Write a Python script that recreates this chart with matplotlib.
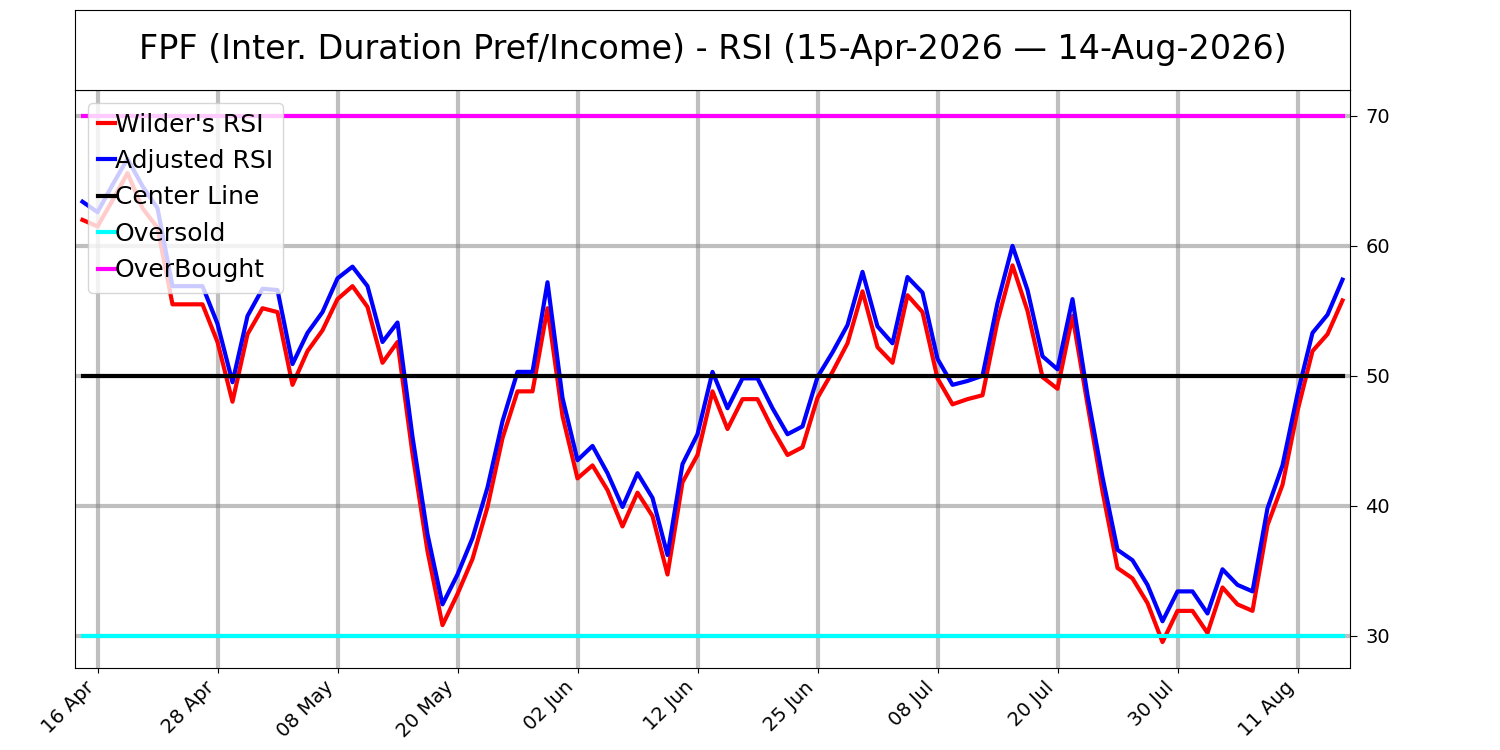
import matplotlib; matplotlib.use("Agg")
import matplotlib.pyplot as plt
import numpy as np
import pandas as pd

# ── Data ──────────────────────────────────────────────────────────────────
TITLE = "FPF (Inter. Duration Pref/Income) - RSI (15-Apr-2026 \u2014 14-Aug-2026)"
START, END = "2026-04-15", "2026-08-14"
HOLIDAYS = ["2026-05-25", "2026-06-19", "2026-07-03"]

wilder_rsi = [62.0, 61.5, 63.5, 65.6, 62.9, 61.4, 55.5, 55.5, 55.5, 52.6,
              48.0, 53.2, 55.2, 54.9, 49.3, 51.9, 53.5, 55.9, 56.9, 55.3,
              51.0, 52.6, 44.0, 36.5, 30.8, 33.2, 35.9, 39.9, 45.2, 48.8,
              48.8, 55.2, 46.9, 42.1, 43.1, 41.2, 38.4, 41.0, 39.2, 34.7,
              41.8, 43.9, 48.8, 45.9, 48.2, 48.2, 45.9, 43.9, 44.5, 48.3,
              50.3, 52.5, 56.5, 52.2, 51.0, 56.2, 54.9, 49.8, 47.8, 48.2,
              48.5, 54.2, 58.5, 55.0, 49.9, 49.0, 54.6, 47.8, 41.1, 35.2,
              34.4, 32.5, 29.5, 31.9, 31.9, 30.2, 33.7, 32.4, 31.9, 38.5,
              41.6, 47.3, 51.9, 53.2, 55.8]
adjusted_rsi = [63.4, 62.6, 64.7, 66.7, 64.6, 62.9, 56.9, 56.9, 56.9, 54.0,
                49.5, 54.6, 56.7, 56.6, 50.9, 53.3, 54.9, 57.5, 58.4, 56.9,
                52.6, 54.1, 45.3, 37.8, 32.4, 34.7, 37.5, 41.4, 46.5, 50.3,
                50.3, 57.2, 48.3, 43.5, 44.6, 42.5, 39.9, 42.5, 40.6, 36.2,
                43.2, 45.5, 50.3, 47.5, 49.8, 49.8, 47.5, 45.5, 46.1, 49.9,
                51.8, 53.9, 58.0, 53.8, 52.5, 57.6, 56.4, 51.3, 49.3, 49.6,
                50.0, 55.6, 60.0, 56.6, 51.5, 50.5, 55.9, 48.5, 42.2, 36.6,
                35.8, 33.9, 31.1, 33.4, 33.4, 31.7, 35.1, 33.9, 33.4, 39.8,
                43.1, 48.6, 53.3, 54.7, 57.4]
CENTER, OVERSOLD, OVERBOUGHT = 50, 30, 70
TICK_STEP = 8

# trading days (index-based x axis, like a gapless price chart)
dates = pd.bdate_range(START, END)
dates = dates[~dates.isin(pd.to_datetime(HOLIDAYS))]
x = np.arange(len(dates))

# ── Figure ────────────────────────────────────────────────────────────────
fig = plt.figure(figsize=(15, 7.5), dpi=100)
ax = fig.add_axes([0.05, 0.1093, 0.85, 0.7707])
tax = fig.add_axes([0.05, 0.88, 0.85, 0.1067])
tax.set_xticks([]); tax.set_yticks([])
tax.text(0.5, 0.5, TITLE, ha="center", va="center", fontsize=24,
         transform=tax.transAxes)

ax.plot(x, wilder_rsi, color="red", linewidth=3, label="Wilder's RSI")
ax.plot(x, adjusted_rsi, color="blue", linewidth=3, label="Adjusted RSI")
ax.plot(x, np.full(len(x), CENTER), color="black", linewidth=3, label="Center Line")
ax.plot(x, np.full(len(x), OVERSOLD), color="cyan", linewidth=3, label="Oversold")
ax.plot(x, np.full(len(x), OVERBOUGHT), color="magenta", linewidth=3, label="OverBought")

ticks = x[1::TICK_STEP]
ax.set_xticks(ticks)
ax.set_xticklabels([dates[i].strftime("%d %b") for i in ticks],
                   rotation=45, ha="right", fontsize=14)
ax.yaxis.tick_right()
ax.tick_params(axis="y", labelsize=14, length=5, pad=6)
ax.set_yticks([30, 40, 50, 60, 70])
ax.set_xlim(-0.5, len(x) - 0.5)
ax.set_ylim(min(wilder_rsi) - 2, OVERBOUGHT + 2)
ax.grid(True, color="grey", linewidth=3, alpha=0.5)
ax.set_axisbelow(True)

ax.legend(loc="upper left", fontsize=18, handlelength=0.7, handletextpad=0.0,
          labelspacing=0.5, borderpad=0.4)

fig.savefig("out.png", dpi=100)
